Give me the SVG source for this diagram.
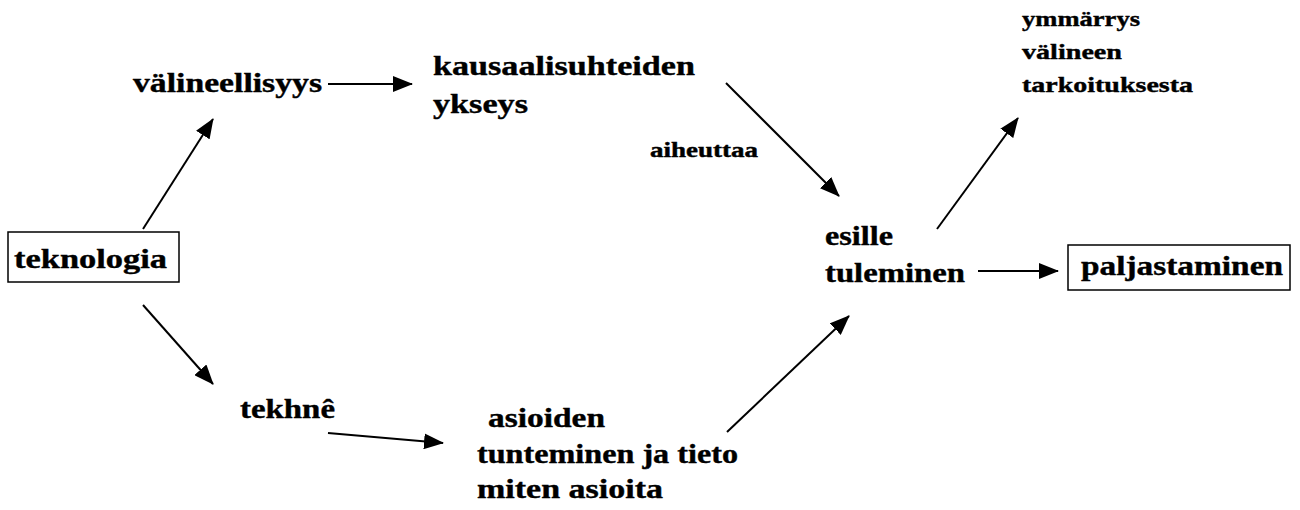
<svg xmlns="http://www.w3.org/2000/svg" width="1300" height="510" viewBox="0 0 1300 510">
  <style>
    .t { font-family: "Liberation Serif", "Times New Roman", serif; font-weight: bold; fill: #000; stroke: #000; stroke-width: 0.4; }
    .big { font-size: 28px; }
    .mid { font-size: 22px; }
    .small { font-size: 20px; }
    .box { fill: #fff; stroke: #000; stroke-width: 1.5; }
    .edge { stroke: #000; stroke-width: 2; fill: none; marker-end: url(#arrow); }
  </style>
  <defs>
    <marker id="arrow" markerUnits="userSpaceOnUse" markerWidth="20" markerHeight="16" viewBox="0 0 20 16" refX="19" refY="8" orient="auto">
      <path d="M0,0 L20,8 L0,16 Z" fill="#000"/>
    </marker>
  </defs>

  <rect width="1300" height="510" fill="#fff"/>

  <!-- connectors -->
  <g id="connectors">
    <line class="edge" x1="143" y1="229" x2="213" y2="119"/>
    <line class="edge" x1="328" y1="84" x2="412" y2="84"/>
    <line class="edge" x1="726" y1="83" x2="839" y2="196"/>
    <line class="edge" x1="937" y1="229" x2="1018" y2="118"/>
    <line class="edge" x1="978" y1="271" x2="1058" y2="271"/>
    <line class="edge" x1="143" y1="305" x2="213" y2="384"/>
    <line class="edge" x1="328" y1="433" x2="443" y2="443"/>
    <line class="edge" x1="727" y1="432" x2="849" y2="316"/>
  </g>

  <g id="teknologia">
    <rect class="box" x="8" y="232" width="171" height="50"/>
    <text class="t big" x="14" y="268" textLength="153" lengthAdjust="spacingAndGlyphs">teknologia</text>
  </g>

  <g id="valineellisyys">
    <text class="t big" x="133" y="92" textLength="189" lengthAdjust="spacingAndGlyphs">välineellisyys</text>
  </g>

  <g id="kausaalisuhteiden">
    <text class="t big" x="433" y="75" textLength="262" lengthAdjust="spacingAndGlyphs">kausaalisuhteiden</text>
    <text class="t big" x="433" y="113" textLength="95" lengthAdjust="spacingAndGlyphs">ykseys</text>
  </g>

  <g id="aiheuttaa">
    <text class="t small" x="650" y="157" textLength="108" lengthAdjust="spacingAndGlyphs">aiheuttaa</text>
  </g>

  <g id="ymmarrys">
    <text class="t mid" x="1022" y="26" textLength="118" lengthAdjust="spacingAndGlyphs">ymmärrys</text>
    <text class="t mid" x="1022" y="59" textLength="100" lengthAdjust="spacingAndGlyphs">välineen</text>
    <text class="t mid" x="1022" y="92" textLength="171" lengthAdjust="spacingAndGlyphs">tarkoituksesta</text>
  </g>

  <g id="esille">
    <text class="t big" x="825" y="245" textLength="68" lengthAdjust="spacingAndGlyphs">esille</text>
    <text class="t big" x="825" y="282" textLength="140" lengthAdjust="spacingAndGlyphs">tuleminen</text>
  </g>

  <g id="paljastaminen">
    <rect class="box" x="1068" y="245" width="222" height="45"/>
    <text class="t big" x="1081" y="275" textLength="202" lengthAdjust="spacingAndGlyphs">paljastaminen</text>
  </g>

  <g id="tekhne">
    <text class="t big" x="240" y="418" textLength="95" lengthAdjust="spacingAndGlyphs">tekhnê</text>
  </g>

  <g id="asioiden">
    <text class="t big" x="488" y="427" textLength="117" lengthAdjust="spacingAndGlyphs">asioiden</text>
    <text class="t big" x="477" y="463" textLength="261" lengthAdjust="spacingAndGlyphs">tunteminen ja tieto</text>
    <text class="t big" x="477" y="498" textLength="186" lengthAdjust="spacingAndGlyphs">miten asioita</text>
  </g>
</svg>
